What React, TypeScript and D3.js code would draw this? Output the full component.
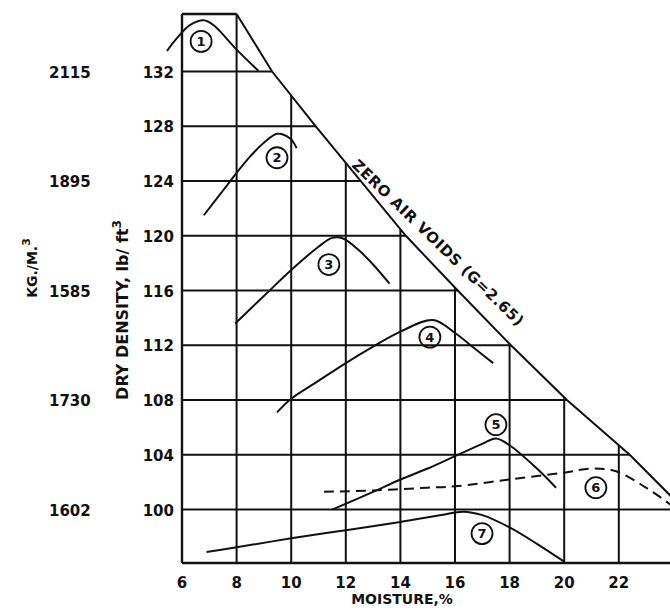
import React, { useEffect, useRef } from 'react'
import * as d3 from 'd3'

////////////////////
//// Data (moisture %, dry density lb/ft3)

const xTicks = [6, 8, 10, 12, 14, 16, 18, 20, 22]
const yTicks = [100, 104, 108, 112, 116, 120, 124, 128, 132]
const kgValues = [100, 108, 116, 124, 132]
const kgLabels = ['1602', '1730', '1585', '1895', '2115']

const zeroAirVoids = [[8, 136.2], [9.3, 132], [10.9, 128], [12.55, 124], [14.2, 120], [16.1, 116], [18.05, 112], [20.1, 108], [22.4, 104], [24, 100.8]]

const curve1 = [[5.45, 133.5], [5.8, 134.4], [6.3, 135.4], [6.8, 135.75], [7.15, 135.4], [8, 133.6], [8.8, 132.05]]
const curve2 = [[6.8, 121.5], [7.5, 123.3], [8, 124.6], [8.5, 125.8], [9, 126.8], [9.5, 127.45], [9.96, 127.1], [10.2, 126.4]]
const curve3 = [[7.95, 113.6], [9, 115.6], [10, 117.5], [11, 119.2], [11.5, 119.85], [11.9, 119.8], [12.5, 118.9], [13, 117.9], [13.6, 116.5]]
const curve4 = [[9.48, 107.1], [10, 108.1], [11, 109.4], [12, 110.7], [13, 111.9], [14, 113], [15.2, 113.85], [16, 112.9], [16.7, 111.8], [17.4, 110.7]]
const curve5 = [[11.5, 100], [13, 101.3], [14, 102.2], [15, 103], [16, 103.9], [17, 104.8], [17.5, 105.2], [18, 104.7], [19, 103], [19.7, 101.6]]
const curve6 = [[11.2, 101.3], [13, 101.4], [15, 101.6], [16, 101.7], [18, 102.2], [20, 102.7], [21, 103], [21.9, 102.8], [23, 101.6], [23.8, 100.5], [24.2, 99.8]]
const curve7 = [[6.9, 96.9], [8, 97.25], [10, 97.9], [12, 98.5], [14, 99.1], [15.5, 99.6], [16.3, 99.85], [17, 99.6], [18, 98.7], [19, 97.5], [20, 96.2]]

const curves = [curve1, curve2, curve3, curve4, curve5, curve6, curve7]
const curveNames = ['1', '2', '3', '4', '5', '6', '7']
const labelSpots = [[6.7, 134.2], [9.48, 125.7], [11.38, 117.9], [15.08, 112.6], [17.5, 106.2], [21.16, 101.6], [16.99, 98.25]]

export default function App() {
    const svgRef = useRef(null)
    const width = 670
    const height = 613

    useEffect(() => {
        draw()
    }, [])

    const draw = () => {
        const svg = d3.select(svgRef.current)
        svg.selectAll('*').remove()

        const x = d3.scaleLinear().domain([6, 24]).range([182, 673.4])
        const y = d3.scaleLinear().domain([96.1, 136.2]).range([563, 14])
        const ink = '#111'
        const font = '"DejaVu Sans", sans-serif'

        // area under the zero air voids line, grid lines stop there
        const clipPts = [[x(6), y(96.1)], [x(6), y(136.2)]]
            .concat(zeroAirVoids.map(d => [x(d[0]), y(d[1])]))
            .concat([[x(24), y(96.1)]])
        svg.append('clipPath').attr('id', 'under-zav')
            .append('polygon').attr('points', clipPts.map(p => p.join(',')).join(' '))

        const grid = svg.append('g')
            .attr('clip-path', 'url(#under-zav)')
            .attr('stroke', ink)
            .attr('stroke-width', 2)

        grid.selectAll('line.h')
            .data(yTicks)
            .join('line')
            .attr('class', 'h')
            .attr('x1', x(6)).attr('x2', x(24))
            .attr('y1', d => y(d)).attr('y2', d => y(d))

        grid.selectAll('line.v')
            .data(xTicks.slice(1))
            .join('line')
            .attr('class', 'v')
            .attr('x1', d => x(d)).attr('x2', d => x(d))
            .attr('y1', y(96.1)).attr('y2', y(136.2))

        // frame
        const frame = svg.append('g').attr('stroke', ink).attr('stroke-width', 2.4).attr('fill', 'none')
        frame.append('line').attr('x1', x(6)).attr('x2', x(6)).attr('y1', y(96.1)).attr('y2', y(136.2))
        frame.append('line').attr('x1', x(6)).attr('x2', x(8)).attr('y1', y(136.2)).attr('y2', y(136.2))
        frame.append('line').attr('x1', x(6)).attr('x2', x(24)).attr('y1', y(96.1)).attr('y2', y(96.1))

        const line = d3.line().x(d => x(d[0])).y(d => y(d[1]))
        frame.append('path').attr('d', line(zeroAirVoids)).attr('stroke-width', 2)

        // compaction curves
        const smooth = d3.line().x(d => x(d[0])).y(d => y(d[1])).curve(d3.curveCatmullRom.alpha(0.5))
        svg.append('g')
            .attr('fill', 'none')
            .attr('stroke', ink)
            .attr('stroke-width', 2)
            .selectAll('path')
            .data(curves)
            .join('path')
            .attr('d', d => smooth(d))
            .attr('stroke-dasharray', (d, i) => i === 5 ? '10 6' : null)

        // circled numbers
        const tags = svg.append('g')
            .selectAll('g')
            .data(labelSpots)
            .join('g')
            .attr('transform', d => `translate(${x(d[0])},${y(d[1])})`)
        tags.append('circle').attr('r', 10.5).attr('fill', 'none').attr('stroke', ink).attr('stroke-width', 1.8)
        tags.append('text')
            .attr('text-anchor', 'middle')
            .attr('dy', '0.36em')
            .attr('font-family', font)
            .attr('font-weight', 'bold')
            .attr('font-size', 13)
            .attr('fill', ink)
            .text((d, i) => curveNames[i])

        const txt = svg.append('g')
            .attr('font-family', font)
            .attr('font-weight', 'bold')
            .attr('fill', ink)

        txt.selectAll('text.yt')
            .data(yTicks)
            .join('text')
            .attr('class', 'yt')
            .attr('x', 174)
            .attr('y', d => y(d) + 6)
            .attr('text-anchor', 'end')
            .attr('font-size', 15)
            .text(d => d)

        txt.selectAll('text.kg')
            .data(kgValues)
            .join('text')
            .attr('class', 'kg')
            .attr('x', 49)
            .attr('y', d => y(d) + 6)
            .attr('font-size', 15)
            .text((d, i) => kgLabels[i])

        txt.selectAll('text.xt')
            .data(xTicks)
            .join('text')
            .attr('class', 'xt')
            .attr('x', d => x(d))
            .attr('y', 588)
            .attr('text-anchor', 'middle')
            .attr('font-size', 15)
            .text(d => d)

        txt.append('text')
            .attr('x', 402).attr('y', 604)
            .attr('text-anchor', 'middle')
            .attr('font-size', 14)
            .text('MOISTURE,%')

        const dd = txt.append('text')
            .attr('transform', 'translate(128,310) rotate(-90)')
            .attr('text-anchor', 'middle')
            .attr('font-size', 16)
        dd.append('tspan').text('DRY DENSITY, lb/ ft')
        dd.append('tspan').attr('font-size', 12).attr('dy', -7).text('3')

        const kg = txt.append('text')
            .attr('transform', 'translate(37,268) rotate(-90)')
            .attr('text-anchor', 'middle')
            .attr('font-size', 14)
        kg.append('tspan').text('KG./M.')
        kg.append('tspan').attr('font-size', 11).attr('dy', -7).text('3')

        txt.append('text')
            .attr('transform', 'translate(351,166) rotate(44)')
            .attr('font-size', 15)
            .attr('letter-spacing', 0.6)
            .text('ZERO AIR VOIDS (G=2.65)')
    }

    return (
        <svg ref={svgRef} width={width} height={height}
             style={{ position: 'absolute', left: 0, top: 0, background: '#fff' }}/>
    )
}
